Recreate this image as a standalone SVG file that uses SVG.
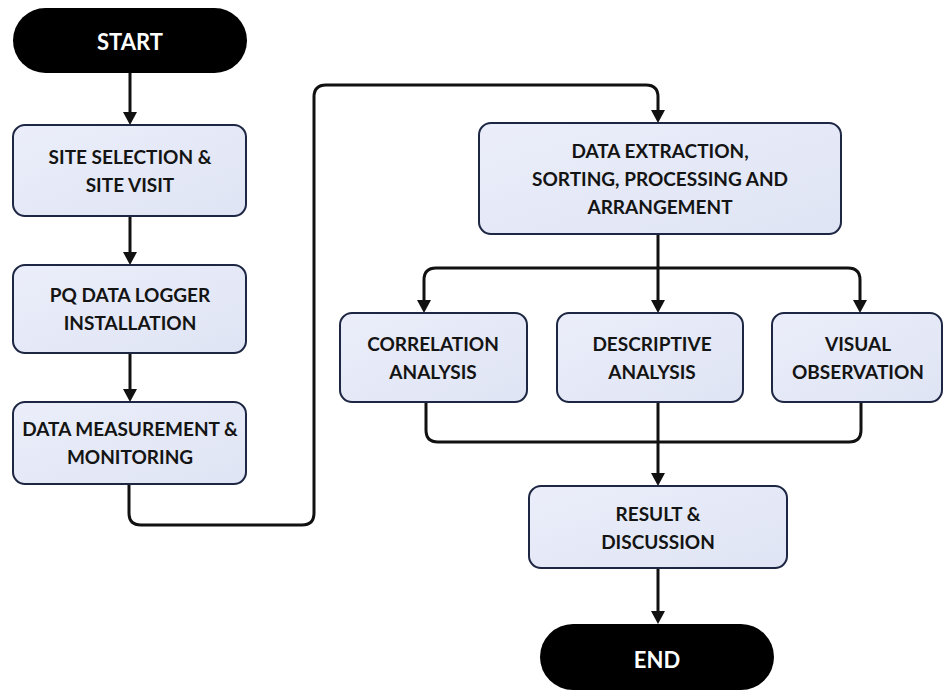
<svg xmlns="http://www.w3.org/2000/svg" width="947" height="691" viewBox="0 0 947 691">
  <style>
    .box { fill: url(#boxFill); stroke: #1d2642; stroke-width: 2; }
    .pill { fill: #000000; }
    .t { font-family: Lato, "Liberation Sans", sans-serif; font-weight: 700; font-size: 19px; fill: #141414; text-anchor: middle; }
    .tw { font-family: Lato, "Liberation Sans", sans-serif; font-weight: 700; font-size: 22px; fill: #ffffff; text-anchor: middle; }
    .c { fill: none; stroke: #111111; stroke-width: 3; stroke-linejoin: round; }
    .a { marker-end: url(#arrow); }
  </style>
  <defs>
    <linearGradient id="boxFill" x1="0" y1="0" x2="1" y2="1">
      <stop offset="0" stop-color="#ebeefa"/>
      <stop offset="1" stop-color="#dfe4f4"/>
    </linearGradient>
    <marker id="arrow" markerUnits="userSpaceOnUse" markerWidth="14" markerHeight="14" refX="0" refY="7" orient="auto">
      <path d="M0,0 L13,7 L0,14 z" fill="#111111"/>
    </marker>
  </defs>
  <rect width="947" height="691" fill="#ffffff"/>

  <g id="connectors">
    <path class="c a" d="M130,73 V112"/>
    <path class="c a" d="M130,216 V252"/>
    <path class="c a" d="M130,353 V389"/>
    <path class="c a" d="M129,484 V513 Q129,525 141,525 H302 Q314,525 314,513 V97 Q314,85 326,85 H646 Q658,85 658,97 V110"/>
    <path class="c a" d="M658,234 V300"/>
    <path class="c a" d="M658,268 H436 Q424,268 424,280 V300"/>
    <path class="c a" d="M658,268 H848 Q860,268 860,280 V300"/>
    <path class="c" d="M426,402 V430 Q426,442 438,442 H849 Q861,442 861,430 V402"/>
    <path class="c a" d="M658,402 V473"/>
    <path class="c a" d="M658,568 V611"/>
  </g>

  <g id="start">
    <rect class="pill" x="13" y="8" width="234" height="65" rx="32.5"/>
    <text class="tw" x="130" y="50">START</text>
  </g>
  <g id="site-selection">
    <rect class="box" x="13" y="125" width="233" height="91" rx="12"/>
    <text class="t" x="130" y="164">SITE SELECTION &amp;</text>
    <text class="t" x="130" y="192">SITE VISIT</text>
  </g>
  <g id="pq-logger">
    <rect class="box" x="13" y="265" width="233" height="88" rx="12"/>
    <text class="t" x="130" y="302">PQ DATA LOGGER</text>
    <text class="t" x="130" y="330">INSTALLATION</text>
  </g>
  <g id="data-measurement">
    <rect class="box" x="13" y="402" width="233" height="82" rx="12"/>
    <text class="t" x="130" y="436">DATA MEASUREMENT &amp;</text>
    <text class="t" x="130" y="464">MONITORING</text>
  </g>
  <g id="data-extraction">
    <rect class="box" x="479" y="123" width="362" height="111" rx="12"/>
    <text class="t" x="660" y="158">DATA EXTRACTION,</text>
    <text class="t" x="660" y="186">SORTING, PROCESSING AND</text>
    <text class="t" x="660" y="214">ARRANGEMENT</text>
  </g>
  <g id="correlation">
    <rect class="box" x="340" y="313" width="187" height="89" rx="12"/>
    <text class="t" x="433" y="351">CORRELATION</text>
    <text class="t" x="433" y="379">ANALYSIS</text>
  </g>
  <g id="descriptive">
    <rect class="box" x="557" y="313" width="186" height="89" rx="12"/>
    <text class="t" x="652" y="351">DESCRIPTIVE</text>
    <text class="t" x="652" y="379">ANALYSIS</text>
  </g>
  <g id="visual">
    <rect class="box" x="772" y="313" width="170" height="89" rx="12"/>
    <text class="t" x="858" y="351">VISUAL</text>
    <text class="t" x="858" y="379">OBSERVATION</text>
  </g>
  <g id="result">
    <rect class="box" x="529" y="486" width="258" height="82" rx="12"/>
    <text class="t" x="658" y="521">RESULT &amp;</text>
    <text class="t" x="658" y="549">DISCUSSION</text>
  </g>
  <g id="end">
    <rect class="pill" x="540" y="624" width="234" height="66" rx="33"/>
    <text class="tw" x="657" y="668">END</text>
  </g>
</svg>
